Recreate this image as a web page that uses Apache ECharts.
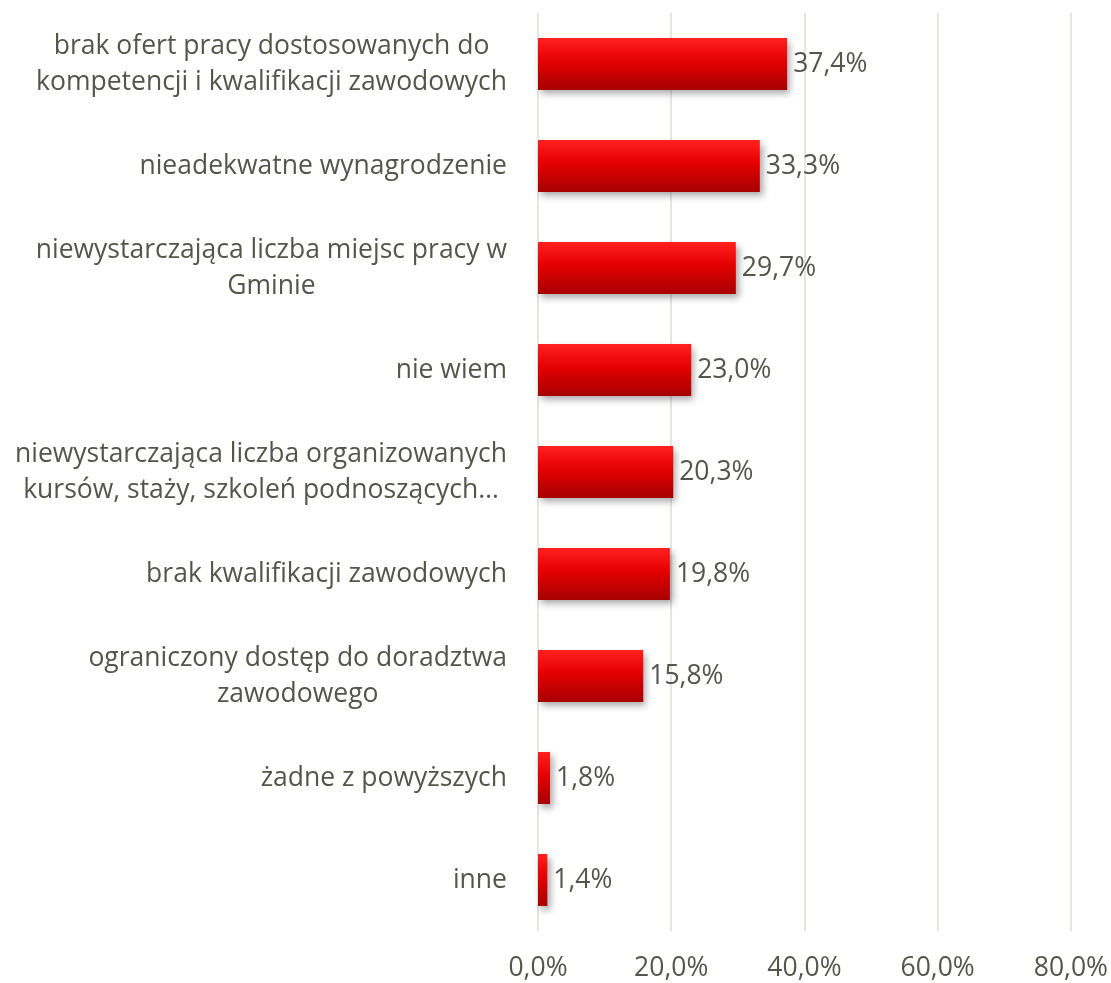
<!DOCTYPE html>
<html>
<head>
<meta charset="utf-8">
<script src="https://cdn.jsdelivr.net/npm/echarts@6/dist/echarts.min.js"></script>
<style>
  html, body { margin: 0; padding: 0; background: #ffffff; }
  #chart { width: 1111px; height: 983px; }
</style>
</head>
<body>
<div id="chart"></div>
<script>
// Reasons listed from the most to the least frequent answer
const categories = [
  'brak ofert pracy dostosowanych do\nkompetencji i kwalifikacji zawodowych',
  'nieadekwatne wynagrodzenie',
  'niewystarczająca liczba miejsc pracy w\nGminie',
  'nie wiem',
  'niewystarczająca liczba organizowanych\nkursów, staży, szkoleń podnoszących…',
  'brak kwalifikacji zawodowych',
  'ograniczony dostęp do doradztwa\nzawodowego',
  'żadne z powyższych',
  'inne'
];
const values = [37.4, 33.3, 29.7, 23.0, 20.3, 19.8, 15.8, 1.8, 1.4];
const axisTicks = [0, 20, 40, 60, 80];

const FONT = 'Open Sans';
const SIZE = 26.5;
const TEXT = '#55554d';
const pct = v => v.toFixed(1).replace('.', ',') + '%';

const chart = echarts.init(document.getElementById('chart'), null, { renderer: 'canvas' });
chart.setOption({
  backgroundColor: '#ffffff',
  animation: false,
  grid: { left: 538, right: 39, top: 13, bottom: 52, containLabel: false },
  xAxis: {
    type: 'value',
    min: axisTicks[0],
    max: axisTicks[axisTicks.length - 1],
    interval: axisTicks[1] - axisTicks[0],
    axisLine: { show: false },
    axisTick: { show: false },
    splitLine: { show: true, lineStyle: { color: '#dcdcd8', width: 1.5 } },
    axisLabel: {
      margin: 24,
      color: TEXT,
      fontFamily: FONT,
      fontSize: SIZE,
      formatter: v => pct(v)
    }
  },
  yAxis: {
    type: 'category',
    inverse: true,
    data: categories,
    axisLine: { show: false },
    axisTick: { show: false },
    axisLabel: {
      margin: 31,
      color: TEXT,
      fontFamily: FONT,
      fontSize: SIZE,
      lineHeight: 36,
      formatter: v => v.split('\n').map(line => '{c|' + line + '}').join('\n'),
      rich: {
        c: { align: 'center', color: TEXT, fontFamily: FONT, fontSize: SIZE, lineHeight: 36 }
      }
    }
  },
  series: [{
    type: 'bar',
    data: values,
    barWidth: '51%',
    itemStyle: {
      color: new echarts.graphic.LinearGradient(0, 0, 0, 1, [
        { offset: 0, color: '#ff2020' },
        { offset: 0.45, color: '#e40000' },
        { offset: 1, color: '#a60000' }
      ]),
      shadowColor: 'rgba(0,0,0,0.35)',
      shadowBlur: 7,
      shadowOffsetX: 3,
      shadowOffsetY: 4
    },
    label: {
      show: true,
      position: 'right',
      distance: 6,
      color: TEXT,
      fontFamily: FONT,
      fontSize: SIZE,
      formatter: p => pct(p.value)
    }
  }]
});
</script>
</body>
</html>
